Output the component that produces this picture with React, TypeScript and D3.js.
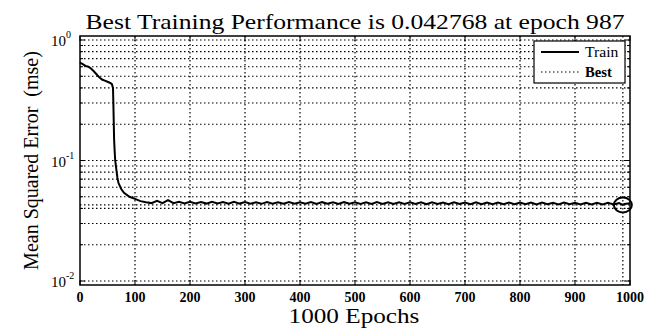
import { scaleLinear, scaleLog, line } from 'd3';

// training record (epoch, mse)
const epochs = [
  0, 5, 10, 15, 20, 25, 30, 35, 40, 45, 50, 55, 58, 60, 61, 62, 63, 64, 66, 68, 70, 75, 80, 90, 100, 110, 120,
  130, 140, 150, 160, 170, 180, 190, 200, 210, 220, 230, 240, 250, 260, 270, 280, 290, 300, 310, 320, 330, 340,
  350, 360, 370, 380, 390, 400, 410, 420, 430, 440, 450, 460, 470, 480, 490, 500, 510, 520, 530, 540, 550, 560,
  570, 580, 590, 600, 610, 620, 630, 640, 650, 660, 670, 680, 690, 700, 710, 720, 730, 740, 750, 760, 770, 780,
  790, 800, 810, 820, 830, 840, 850, 860, 870, 880, 890, 900, 910, 920, 930, 940, 950, 960, 970, 980, 987, 990,
  1000,
];
const trainMse = [
  0.65, 0.63, 0.61, 0.6, 0.58, 0.55, 0.52, 0.49, 0.47, 0.46, 0.45, 0.44, 0.43, 0.4, 0.25, 0.15, 0.12, 0.1, 0.085,
  0.072, 0.065, 0.058, 0.054, 0.05, 0.048, 0.046, 0.045,
  0.0443, 0.0462, 0.0442, 0.0468, 0.0443, 0.0455, 0.0441, 0.0454, 0.044, 0.0453, 0.0439, 0.0455, 0.044, 0.0452,
  0.0438, 0.0454, 0.0439, 0.0452, 0.0438, 0.0451, 0.0437, 0.0453, 0.0438, 0.0451, 0.0437, 0.0452, 0.0438, 0.045,
  0.0437, 0.0452, 0.0436, 0.0451, 0.0437, 0.045, 0.0436, 0.0451, 0.0437, 0.045, 0.0436, 0.045, 0.0435, 0.0451,
  0.0436, 0.0449, 0.0435, 0.045, 0.0436, 0.0449, 0.0435, 0.045, 0.0434, 0.0449, 0.0435, 0.0448, 0.0434, 0.0449,
  0.0435, 0.0448, 0.0434, 0.0449, 0.0433, 0.0448, 0.0434, 0.0447, 0.0433, 0.0448, 0.0434, 0.0447, 0.0433, 0.0447,
  0.0432, 0.0447, 0.0433, 0.0446, 0.0432, 0.0447, 0.0433, 0.0446, 0.0432, 0.0446, 0.0431, 0.0446, 0.0432, 0.0445,
  0.0431, 0.0444, 0.042768, 0.0436, 0.0441,
];

const bestEpoch = 987;
const bestMse = 0.042768;
const xTicks = [0, 100, 200, 300, 400, 500, 600, 700, 800, 900, 1000];
const yDecades = [0, -1, -2];

const width = 654;
const height = 331;
const left = 80,
  right = 630,
  top = 36,
  bottom = 285;

const font = "'Liberation Serif', 'DejaVu Serif', serif";

export default function App() {
  const x = scaleLinear().domain([0, 1000]).range([left, right]);
  const y = scaleLog()
    .domain([0.01 / Math.pow(10, 4 / 120.5), 1 * Math.pow(10, 4 / 120.5)])
    .range([bottom, top]);

  const minor: number[] = [];
  [-2, -1].forEach((k) => {
    for (let m = 1; m <= 9; m++) minor.push(m * Math.pow(10, k));
  });
  minor.push(1);

  const path = line<number>()
    .x((_, i) => x(epochs[i]))
    .y((d) => y(d))(trainMse);

  return (
    <svg
      width={width}
      height={height}
      style={{ position: 'absolute', left: 0, top: 0, background: '#fff', fontFamily: font }}
    >
      <rect width={width} height={height} fill="#fff" />
      {/* grid */}
      <g stroke="#000" strokeWidth={1.2} strokeDasharray="1.5,2.5" fill="none">
        {xTicks.slice(1, -1).map((t) => (
          <line key={'gx' + t} x1={x(t)} x2={x(t)} y1={top} y2={bottom} />
        ))}
        {minor.map((v, i) => (
          <line key={'gy' + i} x1={left} x2={right} y1={y(v)} y2={y(v)} />
        ))}
      </g>
      {/* ticks */}
      <g stroke="#000" strokeWidth={1}>
        {xTicks.map((t) => (
          <g key={'tx' + t}>
            <line x1={x(t)} x2={x(t)} y1={bottom} y2={bottom - 5} />
            <line x1={x(t)} x2={x(t)} y1={top} y2={top + 5} />
          </g>
        ))}
        {minor.map((v, i) => {
          const len = Math.abs(Math.log10(v) - Math.round(Math.log10(v))) < 1e-9 ? 5 : 3;
          return (
            <g key={'ty' + i}>
              <line x1={left} x2={left + len} y1={y(v)} y2={y(v)} />
              <line x1={right} x2={right - len} y1={y(v)} y2={y(v)} />
            </g>
          );
        })}
      </g>
      {/* best markers */}
      <g stroke="#000" strokeWidth={1.2} strokeDasharray="1.5,2.5">
        <line x1={left} x2={right} y1={y(bestMse)} y2={y(bestMse)} />
        <line x1={x(bestEpoch)} x2={x(bestEpoch)} y1={top} y2={bottom} />
      </g>
      <path d={path ?? ''} fill="none" stroke="#000" strokeWidth={2} />
      <ellipse cx={x(bestEpoch)} cy={y(bestMse)} rx={9} ry={7.5} fill="none" stroke="#000" strokeWidth={2} />
      {/* axes box */}
      <rect x={left} y={top} width={right - left} height={bottom - top} fill="none" stroke="#000" strokeWidth={1.5} />
      {/* legend */}
      <g>
        <rect x={534} y={41} width={91} height={42} fill="#fff" stroke="#000" strokeWidth={1.2} />
        <line x1={541} x2={579} y1={52} y2={52} stroke="#000" strokeWidth={2} />
        <line x1={541} x2={579} y1={72} y2={72} stroke="#000" strokeWidth={1.2} strokeDasharray="1.5,2.5" />
        <text transform="translate(585,57) scale(1.12,1)" fontSize={14} fill="#000">
          Train
        </text>
        <text transform="translate(585,77) scale(1.05,1)" fontSize={14} fill="#000" fontWeight="bold">
          Best
        </text>
      </g>
      {/* tick labels */}
      <g fontSize={14} fontWeight="bold" fill="#000" textAnchor="middle">
        {xTicks.map((t) => (
          <text key={'lx' + t} x={x(t)} y={302}>
            {t}
          </text>
        ))}
      </g>
      <g fill="#000">
        {yDecades.map((k) => (
          <text key={'ly' + k} x={51} y={y(Math.pow(10, k)) + 6} fontSize={15}>
            10
            <tspan dy={-8} fontSize={10}>
              {k}
            </tspan>
          </text>
        ))}
      </g>
      {/* titles */}
      <text transform="translate(355,29) scale(1.22,1)" textAnchor="middle" fontSize={21} fill="#000">
        Best Training Performance is 0.042768 at epoch 987
      </text>
      <text transform="translate(354,323) scale(1.2,1)" textAnchor="middle" fontSize={21} fill="#000">
        1000 Epochs
      </text>
      <text
        transform={`translate(38,${(top + bottom) / 2}) rotate(-90)`}
        textAnchor="middle"
        fontSize={20}
        fill="#000"
        xmlSpace="preserve"
      >
        Mean Squared Error  (mse)
      </text>
    </svg>
  );
}
